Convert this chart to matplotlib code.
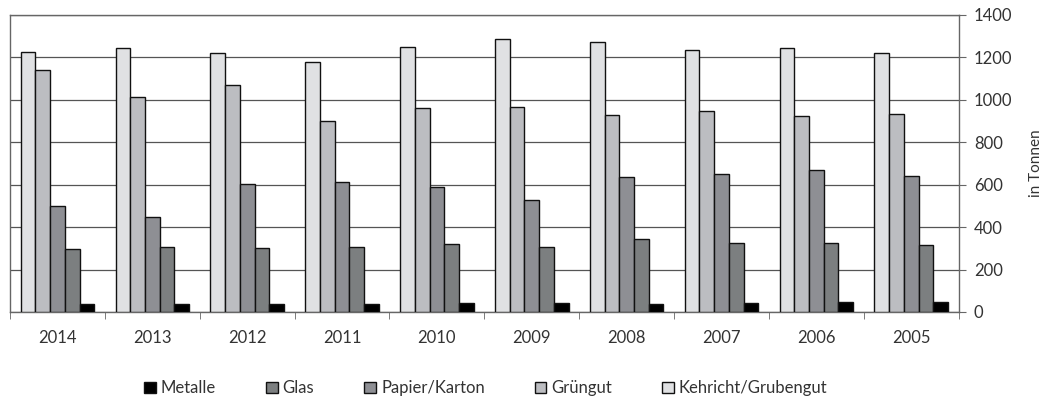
import numpy as np
import matplotlib
matplotlib.use("Agg")
import matplotlib.pyplot as plt

years = ["2014", "2013", "2012", "2011", "2010", "2009", "2008", "2007", "2006", "2005"]
kehricht = [1227, 1243, 1220, 1176, 1249, 1284, 1273, 1232, 1246, 1218]
gruengut = [1141, 1014, 1070, 900, 959, 968, 927, 948, 924, 935]
papier = [500, 448, 602, 614, 589, 529, 635, 651, 668, 640]
glas = [296, 305, 300, 308, 322, 308, 346, 327, 324, 317]
metalle = [38, 38, 38, 39, 44, 44, 39, 44, 49, 49]

series = [("Kehricht/Grubengut", kehricht, "#e0e1e3"),
          ("Grüngut", gruengut, "#bcbdc1"),
          ("Papier/Karton", papier, "#8e8f94"),
          ("Glas", glas, "#7c7f80"),
          ("Metalle", metalle, "#000000")]

plt.rcParams['font.family'] = ['Lato', 'DejaVu Sans']
txt = "#333333"

fig = plt.figure(figsize=(10.47, 4.01), dpi=100)
ax = fig.add_axes([0.0096, 0.222, 0.906, 0.741])

x = np.arange(len(years))
w = 0.155
handles = {}
for i, (name, vals, col) in enumerate(series):
    b = ax.bar(x + (i - 2) * w, vals, w, color=col, edgecolor="#111111",
               linewidth=1.0, zorder=3, label=name)
    handles[name] = b

ax.set_xlim(-0.5, len(years) - 0.5)
ax.set_ylim(0, 1400)
ax.set_yticks(np.arange(0, 1401, 200))
ax.yaxis.tick_right()
ax.yaxis.set_label_position("right")
ax.grid(axis="y", color="#555555", linewidth=0.9, zorder=0)
ax.tick_params(axis="y", length=5, color="#666666", labelsize=12, labelcolor=txt, pad=6)
ax.set_ylabel("in Tonnen", fontsize=11, color=txt, labelpad=12)

ax.set_xticks(x)
ax.set_xticklabels(years)
ax.set_xticks(np.arange(-0.5, len(years), 1.0), minor=True)
ax.tick_params(axis="x", which="major", length=0, labelsize=12, labelcolor=txt, pad=13)
ax.tick_params(axis="x", which="minor", length=5, color="#666666")

for s in ["top", "left", "right", "bottom"]:
    ax.spines[s].set_color("#666666")
    ax.spines[s].set_linewidth(1.0)

order = ["Metalle", "Glas", "Papier/Karton", "Grüngut", "Kehricht/Grubengut"]
leg = fig.legend([handles[n] for n in order], order, loc="center",
                 bbox_to_anchor=(0.464, 0.032), ncol=5, frameon=False,
                 handlelength=0.7, handleheight=0.7, handletextpad=0.3,
                 columnspacing=3.0, fontsize=12)
for t in leg.get_texts():
    t.set_color(txt)

fig.savefig("out.png", dpi=100)
